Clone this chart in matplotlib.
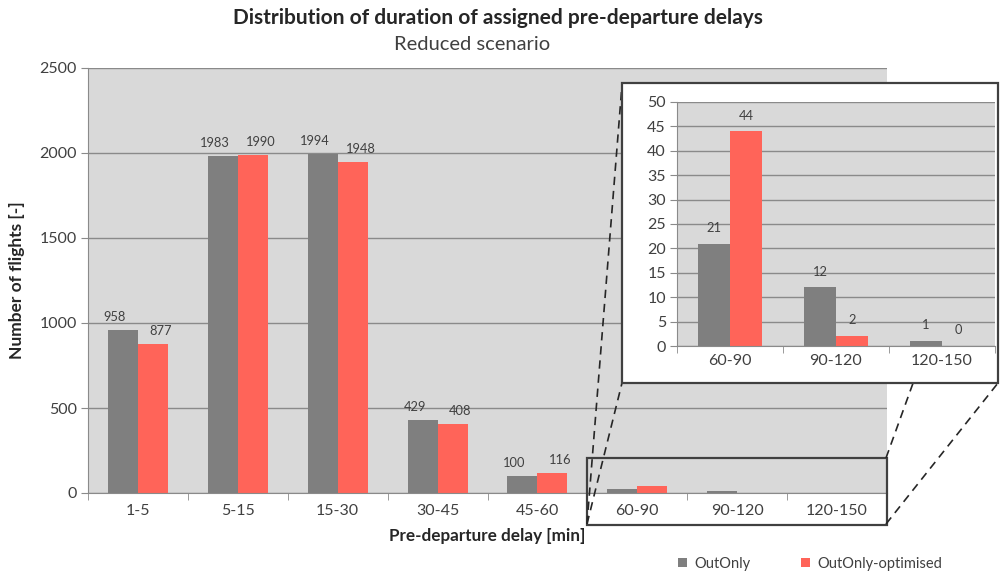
import numpy as np
import matplotlib
matplotlib.use("Agg")
import matplotlib.pyplot as plt
from matplotlib.patches import Rectangle
from matplotlib.lines import Line2D

# data
categories = ["1-5", "5-15", "15-30", "30-45", "45-60", "60-90", "90-120", "120-150"]
out_only = [958, 1983, 1994, 429, 100, 21, 12, 1]
out_only_opt = [877, 1990, 1948, 408, 116, 44, 2, 0]
zoom_categories = ["60-90", "90-120", "120-150"]
zoom_start = 5  # index of first zoomed category

GRAY = "#7f7f7f"
RED = "#ff6459"
BG = "#d9d9d9"
GRID = "#8a8a8a"
TXT = "#404040"

plt.rcParams["font.family"] = ["Lato", "DejaVu Sans"]

W, H = 1000, 575
fig = plt.figure(figsize=(W / 100, H / 100), dpi=100)


def px(x, y):
    # pixel position -> figure fraction
    return x / W, 1 - y / H


def style_axes(ax, n):
    ax.set_facecolor(BG)
    for s in ["top", "right"]:
        ax.spines[s].set_visible(False)
    ax.spines["left"].set_color(GRID)
    ax.spines["bottom"].set_color(GRID)
    ax.set_xlim(-0.5, n - 0.5)
    ax.set_xticks(np.arange(n + 1) - 0.5, minor=True)
    ax.set_xticks(np.arange(n))
    ax.tick_params(axis="x", which="major", length=0, pad=8)
    ax.tick_params(axis="x", which="minor", length=5, color=GRID)
    ax.tick_params(axis="y", length=5, color=GRID, pad=3)
    ax.grid(axis="y", color=GRID, lw=1)
    ax.set_axisbelow(True)


# main chart
ax = fig.add_axes([0.088, 1 - 493 / H, 0.799, 425 / H], zorder=0)
x = np.arange(len(categories))
w = 0.3
b1 = ax.bar(x - w / 2, out_only, w, color=GRAY, label="OutOnly")
b2 = ax.bar(x + w / 2, out_only_opt, w, color=RED, label="OutOnly-optimised")
style_axes(ax, len(categories))
ax.set_ylim(0, 2500)
ax.set_yticks(np.arange(0, 2501, 500))
ax.set_xticklabels(categories, fontsize=11.5, color=TXT)
ax.tick_params(axis="y", labelsize=11.5, labelcolor=TXT)
lab_shift = 0.08
for i in range(zoom_start):
    ax.text(x[i] - w / 2 - lab_shift, out_only[i] + 40, str(out_only[i]), ha="center",
            va="bottom", fontsize=9.3, color=TXT)
    ax.text(x[i] + w / 2 + lab_shift, out_only_opt[i] + 40, str(out_only_opt[i]), ha="center",
            va="bottom", fontsize=9.3, color=TXT)
ax.set_xlabel("Pre-departure delay [min]", fontsize=12.3, fontweight="bold", color="#262626",
              labelpad=7, x=0.5)
ax.set_ylabel("Number of flights [-]", fontsize=12.5, fontweight="bold", color="#262626",
              labelpad=10)

# zoom box around the small categories
ax.add_patch(Rectangle((zoom_start - 0.5, -188), len(zoom_categories), 394, fill=False,
                       ec="#404040", lw=1.6, clip_on=False, zorder=5))

# titles
fig.text(*px(498, 18), "Distribution of duration of assigned pre-departure delays",
         ha="center", va="center", fontsize=15, fontweight="bold", color="#262626")
fig.text(*px(472, 45), "Reduced scenario", ha="center", va="center", fontsize=14.5, color=TXT)

# dashed connector lines
for (x0, y0), (x1, y1) in [((587, 524), (622, 85)), ((587, 524), (622, 383)),
                           ((886, 458), (925, 350)), ((886, 524), (998, 383))]:
    fig.add_artist(Line2D([x0 / W, x1 / W], [1 - y0 / H, 1 - y1 / H], transform=fig.transFigure,
                          color="#262626", lw=1.2, ls=(0, (5, 3.5)), zorder=1))

# inset frame
fl, ft = px(622, 83)
fr, fb = px(998, 383)
fig.add_artist(Rectangle((fl, fb), fr - fl, ft - fb, transform=fig.transFigure,
                         fc="white", ec="#404040", lw=1.6, zorder=2))

# inset chart
axi = fig.add_axes([0.677, 1 - 346 / H, 0.318, 244 / H], zorder=3)
xi = np.arange(len(zoom_categories))
axi.bar(xi - w / 2, out_only[zoom_start:], w, color=GRAY)
axi.bar(xi + w / 2, out_only_opt[zoom_start:], w, color=RED)
style_axes(axi, len(zoom_categories))
axi.set_ylim(0, 50)
axi.set_yticks(np.arange(0, 51, 5))
axi.set_xticklabels(zoom_categories, fontsize=11.5, color=TXT)
axi.tick_params(axis="y", labelsize=11.5, labelcolor=TXT)
axi.tick_params(axis="x", which="major", pad=6)
for i in range(len(zoom_categories)):
    v1 = out_only[zoom_start + i]
    v2 = out_only_opt[zoom_start + i]
    axi.text(xi[i] - w / 2, v1 + 2, str(v1), ha="center", va="bottom", fontsize=9.3, color=TXT)
    axi.text(xi[i] + w / 2, v2 + 2, str(v2), ha="center", va="bottom", fontsize=9.3, color=TXT)

# legend
fig.legend(handles=[b1, b2], loc="center", bbox_to_anchor=px(810, 564), ncol=2, frameon=False,
           fontsize=10.5, handlelength=0.6, handleheight=0.6, columnspacing=3.5, handletextpad=0.5,
           labelcolor=TXT)

fig.savefig("out.png", dpi=100)
